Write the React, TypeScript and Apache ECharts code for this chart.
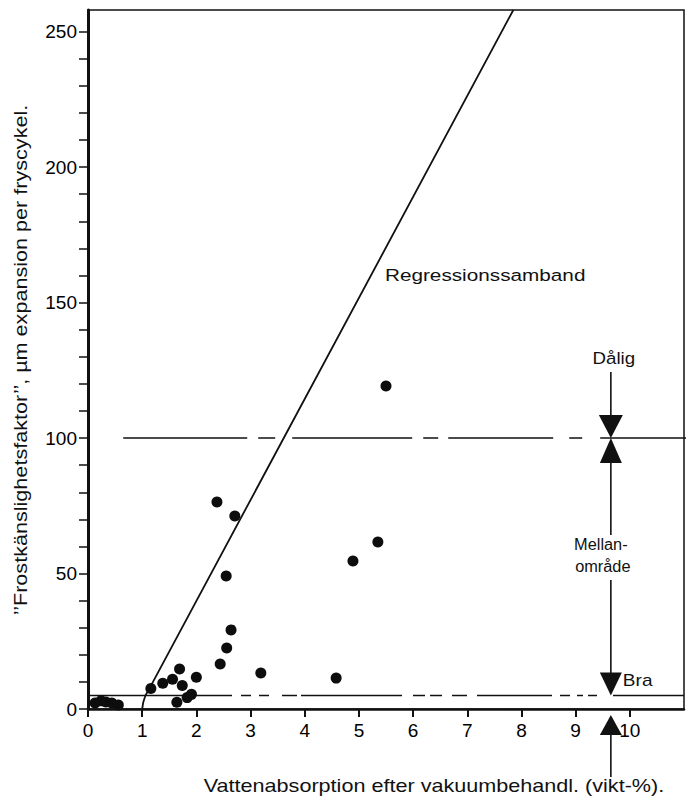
import React, { useEffect, useRef } from "react";
import * as echarts from "echarts";

// ---- data ----
const xTickValues = [0, 1, 2, 3, 4, 5, 6, 7, 8, 9, 10];
const yLabelValues = [0, 50, 100, 150, 200, 250];
const yTickValues = [0, 10, 20, 30, 40, 50, 60, 70, 80, 90, 100, 110, 120, 130, 140, 150, 160, 170, 180, 190, 200, 210, 220, 230, 240, 250];

const sampleAbsorption = [0.13, 0.24, 0.33, 0.44, 0.56, 1.16, 1.38, 1.56, 1.69, 1.74, 2.0, 1.64, 1.83, 1.91, 2.44, 2.56, 2.64, 2.55, 2.38, 2.71, 3.19, 4.58, 4.89, 5.35, 5.5];
const sampleFrostFactor = [2.2, 3.0, 2.6, 2.2, 1.5, 7.6, 9.5, 11.0, 14.8, 8.7, 11.7, 2.5, 4.2, 5.4, 16.6, 22.5, 29.2, 49.1, 76.4, 71.2, 13.3, 11.4, 54.6, 61.6, 119.2];

const regressionX = [1.0, 1.02, 1.06, 1.14, 7.85];
const regressionY = [0, 2.5, 5, 7.8, 258];

const limitPoor = 100;
const limitGood = 5;
const poorLineFromX = 0.65;
const arrowAtX = 9.65;
const regressionLabelAt = [5.48, 160];

const X_MAX = 11;
const Y_MAX = 258;

const yTitle = "’’Frostkänslighetsfaktor’’, µm expansion per fryscykel.";
const xTitle = "Vattenabsorption efter vakuumbehandl. (vikt-%).";

const FONT = "'Liberation Sans', Arial, Helvetica, sans-serif";
const INK = "#111";

// hand-drawn dash patterns of the two limit lines (style only)
const poorDash = [124, 11, 17, 17, 120, 11, 15, 10, 105, 16, 13, 18, 140];
const goodDash = [144, 9, 10, 8, 10, 13, 15, 4, 101, 11, 12, 5, 12, 10, 15, 10, 75, 8, 10, 7, 6, 5, 9, 16, 120];

export default function App() {
  const ref = useRef<HTMLDivElement | null>(null);

  useEffect(() => {
    if (!ref.current) return;
    const chart = echarts.init(ref.current, undefined, { renderer: "svg" });

    const option: any = {
      animation: false,
      backgroundColor: "#fff",
      textStyle: { fontFamily: FONT, color: INK },
      grid: {
        left: 88,
        top: 10,
        right: 6,
        bottom: 92,
        containLabel: false,
        show: true,
        borderColor: INK,
        borderWidth: 1.5,
        backgroundColor: "transparent",
      },
      xAxis: {
        type: "value",
        min: 0,
        max: X_MAX,
        interval: 1,
        axisLine: { onZero: false, lineStyle: { color: INK, width: 2.5 } },
        axisTick: { show: true, length: 8, inside: false, customValues: xTickValues, lineStyle: { color: INK, width: 2 } },
        axisLabel: { customValues: xTickValues, fontSize: 19, color: "#000", margin: 12, fontFamily: FONT },
        splitLine: { show: false },
      },
      yAxis: {
        type: "value",
        min: 0,
        max: Y_MAX,
        interval: 10,
        axisLine: { onZero: false, lineStyle: { color: INK, width: 3 } },
        axisTick: { show: true, length: 9, customValues: yTickValues, lineStyle: { color: INK, width: 1.5 } },
        axisLabel: { customValues: yLabelValues, fontSize: 19, color: "#000", margin: 11, fontFamily: FONT },
        splitLine: { show: false },
      },
      series: [
        {
          type: "line",
          data: [[poorLineFromX, limitPoor], [X_MAX * 1.01, limitPoor]],
          clip: false,
          showSymbol: false,
          symbol: "none",
          lineStyle: { color: INK, width: 1.4, type: poorDash },
          z: 2,
        },
        {
          type: "line",
          data: [[0, limitGood], [X_MAX, limitGood]],
          showSymbol: false,
          symbol: "none",
          lineStyle: { color: INK, width: 1.4, type: goodDash },
          z: 2,
        },
        {
          type: "line",
          data: regressionX.map((x, i) => [x, regressionY[i]]),
          showSymbol: false,
          symbol: "none",
          clip: true,
          lineStyle: { color: INK, width: 1.8 },
          z: 3,
        },
        {
          type: "scatter",
          data: sampleAbsorption.map((x, i) => [x, sampleFrostFactor[i]]),
          symbolSize: 11,
          itemStyle: { color: "#0d0d0d", opacity: 1 },
          z: 4,
        },
      ],
    };
    chart.setOption(option);

    const toPx = (x: number, y: number) =>
      chart.convertToPixel({ xAxisIndex: 0, yAxisIndex: 0 }, [x, y]) as number[];
    const [ax, y100] = toPx(arrowAtX, limitPoor);
    const y5 = toPx(arrowAtX, limitGood)[1];
    const y0 = toPx(arrowAtX, 0)[1];
    const [rx, ry] = toPx(regressionLabelAt[0], regressionLabelAt[1]);

    const seg = (ya: number, yb: number) => ({
      type: "line",
      silent: true,
      shape: { x1: ax, y1: ya, x2: ax, y2: yb },
      style: { stroke: INK, lineWidth: 1.6 },
    });
    const tri = (apexY: number, baseY: number, half: number) => ({
      type: "polygon",
      silent: true,
      shape: { points: [[ax, apexY], [ax - half, baseY], [ax + half, baseY]] },
      style: { fill: INK },
    });
    const txt = (text: string, x: number, y: number, size: number, align = "center", scaleX = 1, rotation = 0) => ({
      type: "text",
      silent: true,
      x,
      y,
      scaleX,
      rotation,
      style: {
        text,
        fontSize: size,
        fontFamily: FONT,
        fill: INK,
        textAlign: align,
        align,
        textVerticalAlign: "middle",
        verticalAlign: "middle",
      },
    });

    chart.setOption({
      graphic: [
        txt(yTitle, 21, 360, 18, "center", 1.2, Math.PI / 2),
        txt(xTitle, 434, 786, 18, "center", 1.2),
        txt("Regressionssamband", rx, ry, 17, "left", 1.22),
        txt("Dålig", ax + 3, y100 - 80, 17, "center", 1.1),
        seg(y100 - 66, y100 - 22),
        tri(y100, y100 - 23, 12),
        tri(y100, y100 + 25, 11),
        seg(y100 + 24, y100 + 97),
        txt("Mellan-", ax - 10, y100 + 106, 16, "center", 1.02),
        txt("område", ax - 8, y100 + 128, 16, "center", 1.02),
        seg(y100 + 142, y5 - 22),
        tri(y5, y5 - 23, 11),
        txt("Bra", ax + 12, y5 - 15, 17, "left", 1.12),
        tri(y0 + 6, y0 + 26, 11),
        seg(y0 + 25, y0 + 68),
      ],
    });

    return () => chart.dispose();
  }, []);

  return (
    <div
      ref={ref}
      style={{ position: "absolute", left: 0, top: 0, width: 690, height: 801, background: "#fff" }}
    />
  );
}
